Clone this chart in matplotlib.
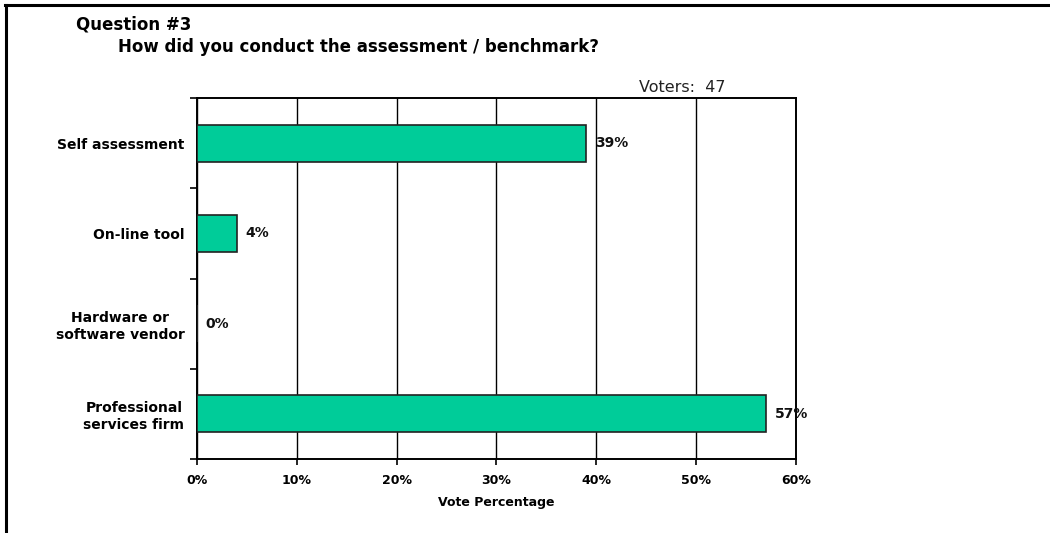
import matplotlib
matplotlib.use("Agg")
import matplotlib.pyplot as plt
from matplotlib.lines import Line2D
from matplotlib.ticker import FixedLocator, PercentFormatter

# Survey results
categories = ["Self assessment", "On-line tool", "Hardware or\nsoftware vendor",
              "Professional\nservices firm"]
vote_pct = [39, 4, 0, 57]
value_labels = ["39%", "4%", "0%", "57%"]
x_ticks = [0, 10, 20, 30, 40, 50, 60]
voters = 47

title_line1 = "Question #3"
title_line2 = "How did you conduct the assessment / benchmark?"

BAR_COLOR = "#00CC99"
FONT = "DejaVu Sans"

fig = plt.figure(figsize=(10.5, 5.33), dpi=100)
fig.patch.set_facecolor("white")

# Frame on the top and left edges of the figure
fig.add_artist(Line2D([0.005, 1.0], [0.99, 0.99], transform=fig.transFigure,
                      color="black", lw=2.2))
fig.add_artist(Line2D([0.0055, 0.0055], [0.0, 0.99], transform=fig.transFigure,
                      color="black", lw=2.2))

ax = fig.add_axes([0.1876, 0.1388, 0.5705, 0.6773])

positions = [i + 0.5 for i in range(len(categories))]
ax.barh(positions, vote_pct, height=0.41, color=BAR_COLOR,
        edgecolor="#222222", linewidth=1.2, zorder=3)

for y, v, lab in zip(positions, vote_pct, value_labels):
    ax.annotate(lab, xy=(v, y), xytext=(6, 0), textcoords="offset points",
                ha="left", va="center", fontsize=10, fontweight="bold",
                family=FONT, color="#111111", zorder=4)

ax.set_xlim(0, 60)
ax.set_ylim(len(categories), 0)

ax.set_xticks(x_ticks)
ax.xaxis.set_major_formatter(PercentFormatter(decimals=0))
ax.tick_params(axis="x", direction="out", length=4, width=1.2, pad=7,
               labelsize=9, colors="black")
for t in ax.get_xticklabels():
    t.set_fontweight("bold")
    t.set_family(FONT)

ax.set_yticks(positions)
ax.set_yticklabels(categories, multialignment="center", linespacing=1.25)
ax.yaxis.set_minor_locator(FixedLocator(range(len(categories) + 1)))
ax.tick_params(axis="y", which="major", length=0, pad=9, labelsize=10)
ax.tick_params(axis="y", which="minor", direction="out", length=5, width=1.2)
for t in ax.get_yticklabels():
    t.set_fontweight("bold")
    t.set_family(FONT)

ax.grid(axis="x", color="black", linewidth=1.0, zorder=1)
ax.set_axisbelow(True)
for s in ax.spines.values():
    s.set_linewidth(1.4)
    s.set_color("black")

ax.set_xlabel("Vote Percentage", fontsize=9, fontweight="bold", family=FONT,
              labelpad=6)

fig.text(0.0724, 0.954, title_line1, fontsize=12, fontweight="bold",
         family=FONT, ha="left", va="center")
fig.text(0.1125, 0.912, title_line2, fontsize=12, fontweight="bold",
         family=FONT, ha="left", va="center")
fig.text(0.6905, 0.835, f"Voters:  {voters}", fontsize=11.5, family=FONT,
         ha="right", va="center", color="#222222")

fig.savefig("out.png", dpi=100, facecolor="white")
